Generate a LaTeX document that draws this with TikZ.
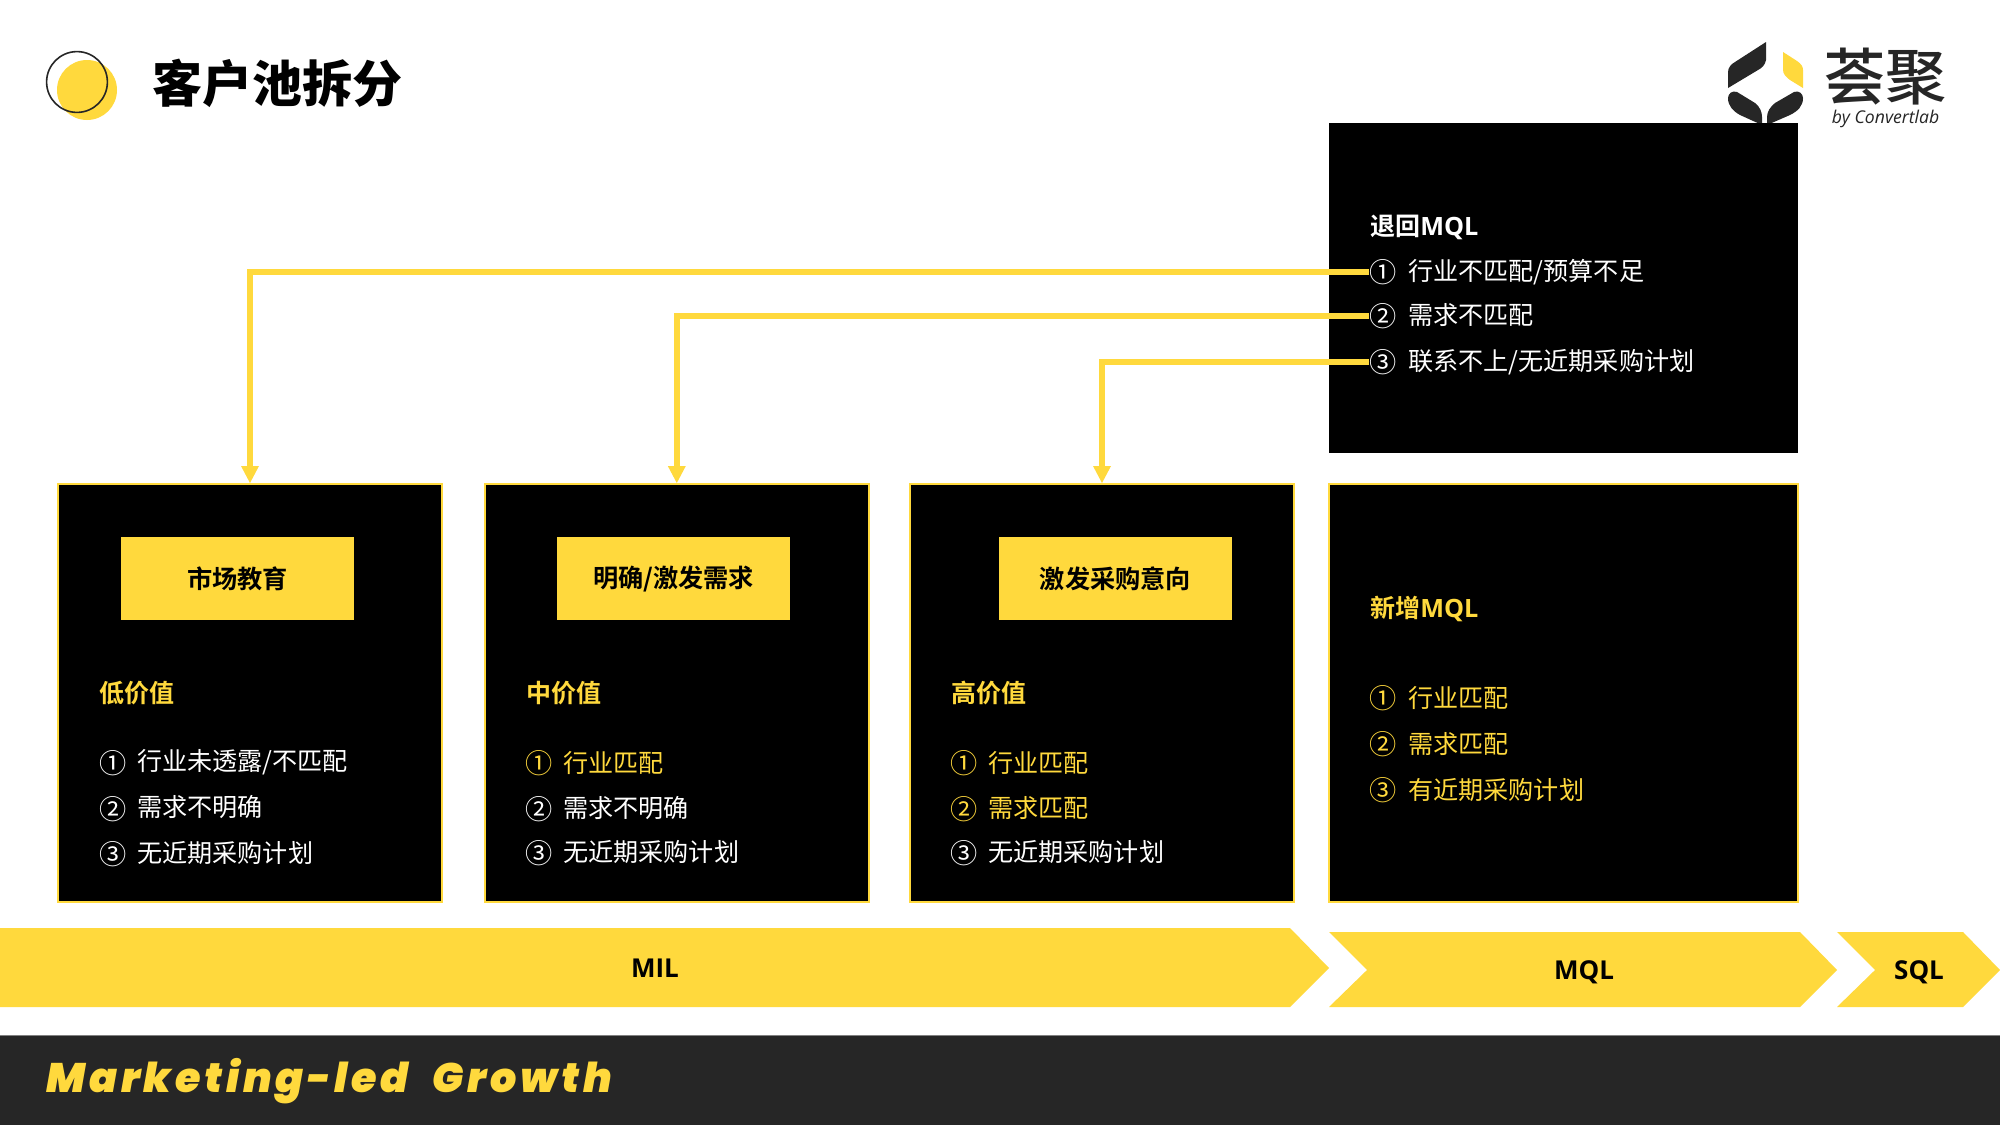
\documentclass[tikz,border=0pt]{standalone}
\usepackage{fontspec}
\setmainfont{Open Sans}
\newfontfamily\cjk[BoldFont={Noto Sans CJK SC Bold}]{Noto Sans CJK SC}
\newfontfamily\cjkblack{Noto Sans CJK SC Black}
\newfontfamily\cjkmed{Noto Sans CJK SC Medium}
\newfontfamily\mlgfont[LetterSpace=9]{Poppins Black Italic}
\newfontfamily\latbold[BoldFont={Open Sans Bold}]{Open Sans}
\newcommand{\qml}{{\latbold\bfseries\fontsize{12.6}{14}\selectfont MQL}}
\definecolor{ly}{HTML}{FFD93D}
\definecolor{dk}{HTML}{262626}
\tikzset{
  x=0.5pt,y=-0.5pt,
  panel/.style={draw=ly,line width=1pt,fill=black,inner sep=0pt,minimum height=209pt},
  panelA/.style={panel,minimum width=192pt},
  panelB/.style={panel,minimum width=234.5pt},
  tag/.style={fill=ly,text=black,font=\cjk\bfseries\fontsize{12.6}{14}\selectfont,inner sep=0pt,minimum width=116.5pt,minimum height=41.5pt},
  head/.style={anchor=west,inner sep=0pt,font=\cjk\bfseries\fontsize{12.5}{14}\selectfont},
  row/.style={anchor=west,inner sep=0pt,font=\cjk\fontsize{12.55}{14}\selectfont},
  circ/.style={anchor=west,inner sep=0pt,font=\cjk\fontsize{13.6}{15}\selectfont},
  wt/.style={text=white},
  yl/.style={text=ly},
  band/.style={fill=ly,draw=none},
  bandtext/.style={font=\bfseries\fontsize{13}{15}\selectfont,text=black,inner sep=0pt},
  link/.style={draw=ly,line width=3pt},
  leaf/.style={fill=dk,draw=none}
}
\begin{document}
\begin{tikzpicture}
\useasboundingbox (0,0) rectangle (2000,1125);
\fill[white] (0,0) rectangle (2000,1125);
% title
\fill[ly] (87,90) circle[radius=15pt];
\draw[dk,line width=0.8pt] (77,82) circle[radius=15.2pt];
\node[anchor=west,inner sep=0pt,font=\cjkblack\fontsize{25}{28}\selectfont,text=black] (title) at (152,83) {客户池拆分};
% logo
\fill[leaf] (1766,42) -- (1766,60) .. controls (1765,65) and (1762,68) .. (1758,70) -- (1728,88) -- (1728,72) .. controls (1728,68) and (1731,64) .. (1735,62) -- cycle;
\fill[ly] (1783,52) -- (1797,61) .. controls (1801,64) and (1803,66) .. (1803,70) -- (1803,88) -- (1790,80) .. controls (1786,77) and (1783,74) .. (1783,70) -- cycle;
\fill[leaf] (1728,98) .. controls (1728,94) and (1732,90) .. (1737,92) -- (1755,103) .. controls (1760,107) and (1762,112) .. (1762,117) -- (1762,125) -- (1740,115) .. controls (1733,111) and (1728,106) .. (1728,98) -- cycle;
\fill[leaf] (1803,98) .. controls (1803,94) and (1799,90) .. (1794,92) -- (1775,103) .. controls (1770,107) and (1767,112) .. (1767,117) -- (1767,125) -- (1790,115) .. controls (1798,111) and (1803,106) .. (1803,98) -- cycle;
\node[inner sep=0pt,font=\cjkmed\fontsize{30.5}{32}\selectfont,text=dk] (brand) at (1885,77) {荟聚};
\node[inner sep=0pt,font=\itshape\fontsize{8.8}{10}\selectfont,text=dk] (by) at (1885.5,118.5) {by Convertlab};
% panels
\node[fill=black,draw=none,inner sep=0pt,minimum width=234.5pt,minimum height=165pt] (top) at (1563.5,288) {};
\node[panelA] (p1) at (250,693) {};
\node[panelA] (p2) at (676.8,693) {};
\node[panelA] (p3) at (1102,693) {};
\node[panelB] (p4) at (1563.5,693) {};
% tags
\node[tag] (t1) at (237.5,578.5) {市场教育};
\node[tag] (t2) at (673.5,578.5) {明确/激发需求};
\node[tag] (t3) at (1115.5,578.5) {激发采购意向};
% top list
\node[head,wt] (th) at (1370,227) {退回\qml};
\node[circ,wt] (c1) at (1369,272) {①};
\node[circ,wt] (c2) at (1369,316) {②};
\node[circ,wt] (c3) at (1369,362) {③};
\node[row,wt] (x1) at (1408,272) {行业不匹配/预算不足};
\node[row,wt] (x2) at (1408,315) {需求不匹配};
\node[row,wt] (x3) at (1408,362) {联系不上/无近期采购计划};
% panel 1
\node[head,yl] (h1) at (99,693) {低价值};
\node[circ,wt] (a1) at (99,763) {①};
\node[circ,wt] (a2) at (99,809) {②};
\node[circ,wt] (a3) at (99,854) {③};
\node[row,wt] (b1) at (137,762) {行业未透露/不匹配};
\node[row,wt] (b2) at (137,807) {需求不明确};
\node[row,wt] (b3) at (137,853) {无近期采购计划};
% panel 2
\node[head,yl] (h2) at (526,693) {中价值};
\node[circ,yl] (d1) at (525,763) {①};
\node[circ,wt] (d2) at (525,809) {②};
\node[circ,wt] (d3) at (525,853) {③};
\node[row,yl] (e1) at (563,763) {行业匹配};
\node[row,wt] (e2) at (563,808) {需求不明确};
\node[row,wt] (e3) at (563,852) {无近期采购计划};
% panel 3
\node[head,yl] (h3) at (951,693) {高价值};
\node[circ,yl] (f1) at (950,763) {①};
\node[circ,yl] (f2) at (950,809) {②};
\node[circ,wt] (f3) at (950,853) {③};
\node[row,yl] (g1) at (988,763) {行业匹配};
\node[row,yl] (g2) at (988,808) {需求匹配};
\node[row,wt] (g3) at (988,852) {无近期采购计划};
% panel 4
\node[head,yl] (h4) at (1370,609) {新增\qml};
\node[circ,yl] (m1) at (1369,698) {①};
\node[circ,yl] (m2) at (1369,744) {②};
\node[circ,yl] (m3) at (1369,790) {③};
\node[row,yl] (n1) at (1408,698) {行业匹配};
\node[row,yl] (n2) at (1408,744) {需求匹配};
\node[row,yl] (n3) at (1408,790) {有近期采购计划};
% connectors
\draw[link] (c1.west) -| ([yshift=8pt]p1.north);
\draw[link] (c2.west) -| ([yshift=8pt]p2.north);
\draw[link] (c3.west) -| ([yshift=8pt]p3.north);
\fill[ly] (p1.north) -- ++(-9,-17) -- ++(18,0) -- cycle;
\fill[ly] (p2.north) -- ++(-9,-17) -- ++(18,0) -- cycle;
\fill[ly] (p3.north) -- ++(-9,-17) -- ++(18,0) -- cycle;
% bands
\fill[band] (0,928) -- (1290,928) -- (1329,968) -- (1290,1007) -- (0,1007) -- cycle;
\fill[band] (1329,932) -- (1800,932) -- (1837,970) -- (1800,1007) -- (1329,1007) -- (1367,970) -- cycle;
\fill[band] (1837,932) -- (1963,932) -- (2000,970) -- (1963,1007) -- (1837,1007) -- (1875,970) -- cycle;
\node[bandtext] (mil) at (655,968) {MIL};
\node[bandtext] (mql) at (1584,972) {MQL};
\node[bandtext] (sql) at (1919,972) {SQL};
% footer
\fill[dk] (0,1035) rectangle (2000,1125);
\draw[gray,line width=0.4pt] (0,1035) -- (2000,1035);
\node[anchor=west,inner sep=0pt,text=ly,font=\mlgfont\fontsize{20.6}{26}\selectfont] (mlg) at (46,1081) {Marketing-led\hspace{12pt}Growth};
\end{tikzpicture}
\end{document}
